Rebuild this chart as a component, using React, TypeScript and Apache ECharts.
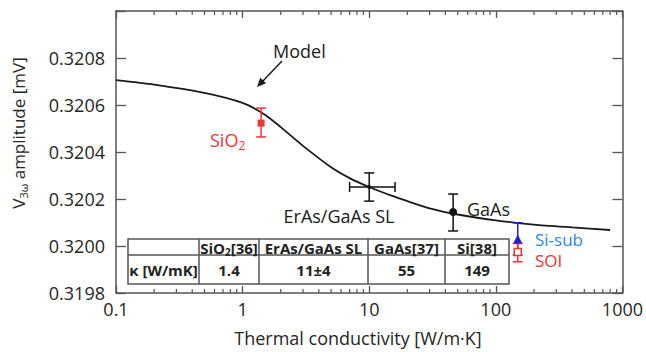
import React, { useEffect, useRef } from 'react';
import * as echarts from 'echarts';

// ---- Model curve ----
const modelK = [0.1, 0.2, 0.5, 1, 1.5, 2, 3, 5, 7, 10, 15, 20, 30, 50, 100, 200, 400, 800];
const modelV = [0.320706, 0.320687, 0.320652, 0.320609, 0.320559, 0.320506, 0.320426, 0.320335, 0.320289, 0.320251, 0.320214, 0.320191, 0.32016, 0.320134, 0.320109, 0.320091, 0.320079, 0.320068];

// ---- Measured samples ----
const sampleNames = ['SiO2', 'ErAs/GaAs SL', 'GaAs', 'Si-sub', 'SOI'];
const sampleK = [1.4, 10, 46, 149, 149];
const sampleV = [0.320523, 0.320251, 0.320145, 0.32003, 0.319974];
const sampleVLow = [0.320464, 0.320191, 0.320064, 0.319962, 0.319933];
const sampleVHigh = [0.320587, 0.320311, 0.320221, 0.320099, 0.320011];
const sampleKLow = [1.4, 7, 46, 149, 149];
const sampleKHigh = [1.4, 16, 46, 149, 149];

// ---- Table ----
const tableHeaders = ['{b|SiO}{bs|2}{b|[36]}', '{b|ErAs/GaAs SL}', '{b|GaAs[37]}', '{b|Si[38]}'];
const tableRowLabel = 'κ [W/mK]';
const tableValues = ['1.4', '11±4', '55', '149'];

// ---- Axes ----
const xTickLabels = ['0.1', '1', '10', '100', '1000'];
const yTickLabels = ['0.3198', '0.3200', '0.3202', '0.3204', '0.3206', '0.3208'];
const X_MIN = 0.1;
const X_MAX = 1000;
const Y_MIN = 0.3198;
const Y_MAX = 0.321;
const Y_STEP = 0.0002;
const minorDecades = [0.1, 1, 10, 100];
const minorMultipliers = [2, 3, 4, 5, 6, 7, 8, 9];

const FONT = "'Open Sans', 'Noto Sans', 'DejaVu Sans', sans-serif";
const AXIS = '#555';
const TEXT = '#262626';
const RED = '#f03535';
const BLUE = '#1e1ed2';
const LIGHT_BLUE = '#2f88d8';

const sampleStyles = [
  { color: RED, symbol: 'rect', size: 7, fill: RED },
  { color: '#111', symbol: 'circle', size: 4, fill: '#111' },
  { color: '#111', symbol: 'circle', size: 8, fill: '#111' },
  { color: BLUE, symbol: 'triangle', size: 9, fill: BLUE },
  { color: RED, symbol: 'rect', size: 7, fill: '#fff' },
];

export default function App() {
  const ref = useRef<HTMLDivElement>(null);

  useEffect(() => {
    if (!ref.current) return;
    const chart = echarts.init(ref.current, undefined, { renderer: 'svg' });

    const minorTicks: number[] = [];
    minorDecades.forEach((d) => minorMultipliers.forEach((m) => minorTicks.push(d * m)));

    const errorSeries = sampleNames.map((name, i) => ({
      type: 'custom',
      name: name + ' error',
      coordinateSystem: 'cartesian2d',
      silent: true,
      clip: false,
      z: 3,
      data: [[sampleK[i], sampleV[i], sampleVLow[i], sampleVHigh[i], sampleKLow[i], sampleKHigh[i]]],
      renderItem: (params: any, api: any) => {
        const x = api.value(0);
        const y = api.value(1);
        const lo = api.coord([x, api.value(2)]);
        const hi = api.coord([x, api.value(3)]);
        const st = { stroke: sampleStyles[i].color, lineWidth: 1.5 };
        const c = 5;
        const children: any[] = [
          { type: 'line', shape: { x1: lo[0], y1: lo[1], x2: hi[0], y2: hi[1] }, style: st },
          { type: 'line', shape: { x1: lo[0] - c, y1: lo[1], x2: lo[0] + c, y2: lo[1] }, style: st },
          { type: 'line', shape: { x1: hi[0] - c, y1: hi[1], x2: hi[0] + c, y2: hi[1] }, style: st },
        ];
        const xl = api.value(4);
        const xh = api.value(5);
        if (xl !== xh) {
          const l = api.coord([xl, y]);
          const r = api.coord([xh, y]);
          children.push(
            { type: 'line', shape: { x1: l[0], y1: l[1], x2: r[0], y2: r[1] }, style: st },
            { type: 'line', shape: { x1: l[0], y1: l[1] - c, x2: l[0], y2: l[1] + c }, style: st },
            { type: 'line', shape: { x1: r[0], y1: r[1] - c, x2: r[0], y2: r[1] + c }, style: st }
          );
        }
        return { type: 'group', children };
      },
    }));

    const markerSeries = sampleNames.map((name, i) => ({
      type: 'scatter',
      name,
      z: 4,
      symbol: sampleStyles[i].symbol,
      symbolSize: sampleStyles[i].size,
      itemStyle: {
        color: sampleStyles[i].fill,
        borderColor: sampleStyles[i].color,
        borderWidth: sampleStyles[i].fill === '#fff' ? 1.5 : 0,
        opacity: 1,
      },
      data: [[sampleK[i], sampleV[i]]],
    }));

    const colX = [128, 199, 259, 368, 445, 509];
    const rowY = [239, 255, 284];
    const tableChildren: any[] = [
      {
        type: 'rect',
        shape: { x: colX[0], y: rowY[0], width: colX[5] - colX[0], height: rowY[2] - rowY[0] },
        style: { fill: '#fff', stroke: AXIS, lineWidth: 1.5 },
      },
      {
        type: 'line',
        shape: { x1: colX[0], y1: rowY[1], x2: colX[5], y2: rowY[1] },
        style: { stroke: AXIS, lineWidth: 1.5 },
      },
    ];
    for (let c = 1; c < 5; c++) {
      tableChildren.push({
        type: 'line',
        shape: { x1: colX[c], y1: rowY[0], x2: colX[c], y2: rowY[2] },
        style: { stroke: AXIS, lineWidth: 1.5 },
      });
    }
    const bRich = {
      b: { fontSize: 15, fontWeight: 'bold', fontFamily: FONT, fill: '#222', lineHeight: 17 },
      bs: { fontSize: 10, fontWeight: 'bold', fontFamily: FONT, fill: '#222', verticalAlign: 'bottom', lineHeight: 10 },
    };
    tableHeaders.forEach((h, i) => {
      tableChildren.push({
        type: 'text',
        x: (colX[i + 1] + colX[i + 2]) / 2,
        y: (rowY[0] + rowY[1]) / 2 + 1,
        style: { text: h, rich: bRich, align: 'center', verticalAlign: 'middle' },
      });
    });
    tableChildren.push({
      type: 'text',
      x: (colX[0] + colX[1]) / 2,
      y: (rowY[1] + rowY[2]) / 2,
      style: { text: tableRowLabel, fontSize: 15, fontWeight: 'bold', fontFamily: FONT, fill: '#222', align: 'center', verticalAlign: 'middle' },
    });
    tableValues.forEach((v, i) => {
      tableChildren.push({
        type: 'text',
        x: (colX[i + 1] + colX[i + 2]) / 2,
        y: (rowY[1] + rowY[2]) / 2,
        style: { text: v, fontSize: 15, fontWeight: 'bold', fontFamily: FONT, fill: '#222', align: 'center', verticalAlign: 'middle' },
      });
    });

    const lbl = (x: number, y: number, text: string, fill: string, extra: any = {}) => ({
      type: 'text',
      x,
      y,
      z: 10,
      style: { text, fontSize: 18, fontFamily: FONT, fill, align: 'left', verticalAlign: 'middle', ...extra },
    });

    const option: any = {
      animation: false,
      backgroundColor: '#fff',
      grid: { left: 116, top: 11, right: 14, bottom: 59, containLabel: false },
      xAxis: [
        {
          type: 'log',
          logBase: 10,
          min: X_MIN,
          max: X_MAX,
          axisLine: { show: true, lineStyle: { color: AXIS, width: 1.5 } },
          axisTick: { show: true, inside: true, length: 7, lineStyle: { color: AXIS, width: 1.3 } },
          minorTick: { show: false },
          splitLine: { show: false },
          axisLabel: {
            margin: 7,
            fontSize: 18,
            fontFamily: FONT,
            color: TEXT,
            formatter: (v: number) => xTickLabels[Math.round(Math.log10(v)) + 1] ?? '',
          },
        },
        {
          type: 'log',
          logBase: 10,
          position: 'top',
          min: X_MIN,
          max: X_MAX,
          axisLine: { show: true, lineStyle: { color: AXIS, width: 1.5 } },
          axisTick: { show: true, inside: true, length: 7, lineStyle: { color: AXIS, width: 1.3 } },
          splitLine: { show: false },
          axisLabel: { show: false },
        },
      ],
      yAxis: [
        {
          type: 'value',
          min: Y_MIN,
          max: Y_MAX,
          interval: Y_STEP,
          axisLine: { show: true, lineStyle: { color: AXIS, width: 1.5 } },
          axisTick: { show: true, inside: true, length: 10, lineStyle: { color: AXIS, width: 1.3 } },
          splitLine: { show: false },
          axisLabel: {
            margin: 11,
            fontSize: 18,
            fontFamily: FONT,
            color: TEXT,
            formatter: (v: number) => yTickLabels[Math.round((v - Y_MIN) / Y_STEP)] ?? '',
          },
        },
        {
          type: 'value',
          position: 'right',
          min: Y_MIN,
          max: Y_MAX,
          interval: Y_STEP,
          axisLine: { show: true, lineStyle: { color: AXIS, width: 1.5 } },
          axisTick: { show: true, inside: true, length: 10, lineStyle: { color: AXIS, width: 1.3 } },
          splitLine: { show: false },
          axisLabel: { show: false },
        },
      ],
      series: [
        {
          type: 'line',
          name: 'Model',
          data: modelK.map((k, i) => [k, modelV[i]]),
          smooth: 0.25,
          showSymbol: false,
          symbol: 'none',
          lineStyle: { color: '#1a1a1a', width: 1.8 },
          z: 2,
        },
        {
          type: 'custom',
          name: 'minor ticks',
          coordinateSystem: 'cartesian2d',
          silent: true,
          clip: false,
          data: minorTicks.map((v) => [v, Y_MIN]),
          renderItem: (params: any, api: any) => {
            const b = api.coord([api.value(0), Y_MIN]);
            const t = api.coord([api.value(0), Y_MAX]);
            const st = { stroke: AXIS, lineWidth: 1.2 };
            return {
              type: 'group',
              children: [
                { type: 'line', shape: { x1: b[0], y1: b[1], x2: b[0], y2: b[1] - 4 }, style: st },
                { type: 'line', shape: { x1: t[0], y1: t[1], x2: t[0], y2: t[1] + 4 }, style: st },
              ],
            };
          },
        },
        ...errorSeries,
        ...markerSeries,
      ],
      graphic: [
        { type: 'group', children: tableChildren, z: 5 },
        // axis titles
        {
          type: 'text',
          x: 358,
          y: 338,
          style: { text: 'Thermal conductivity [W/m·K]', fontSize: 18, fontFamily: FONT, fill: TEXT, align: 'center', verticalAlign: 'middle' },
        },
        {
          type: 'text',
          x: 18,
          y: 133,
          rotation: Math.PI / 2,
          style: {
            text: '{m|V}{s|3ω}{m| amplitude [mV]}',
            align: 'center',
            verticalAlign: 'middle',
            rich: {
              m: { fontSize: 17, fontFamily: FONT, fill: TEXT, lineHeight: 21 },
              s: { fontSize: 11, fontFamily: FONT, fill: TEXT, verticalAlign: 'bottom', lineHeight: 13 },
            },
          },
        },
        // annotations
        lbl(273, 51, 'Model', '#1a1a1a'),
        { type: 'line', shape: { x1: 282, y1: 61, x2: 261, y2: 83 }, style: { stroke: '#1a1a1a', lineWidth: 1.5 } },
        { type: 'polygon', shape: { points: [[257, 87], [266.1, 83.3], [260.3, 77.7]] }, style: { fill: '#1a1a1a' } },
        {
          type: 'text',
          x: 210,
          y: 140,
          z: 10,
          style: {
            text: '{m|SiO}{s|2}',
            align: 'left',
            verticalAlign: 'middle',
            rich: {
              m: { fontSize: 18, fontFamily: FONT, fill: RED, lineHeight: 22 },
              s: { fontSize: 12, fontFamily: FONT, fill: RED, verticalAlign: 'bottom', lineHeight: 14 },
            },
          },
        },
        lbl(339, 216, 'ErAs/GaAs SL', '#1a1a1a', { align: 'center' }),
        lbl(467, 209, 'GaAs', '#1a1a1a'),
        lbl(535, 239, 'Si-sub', LIGHT_BLUE, { fontSize: 17 }),
        lbl(535, 260, 'SOI', RED, { fontSize: 17 }),
      ],
    };

    chart.setOption(option);
    return () => chart.dispose();
  }, []);

  return <div ref={ref} style={{ position: 'fixed', left: 0, top: 0, width: 646, height: 352 }} />;
}
